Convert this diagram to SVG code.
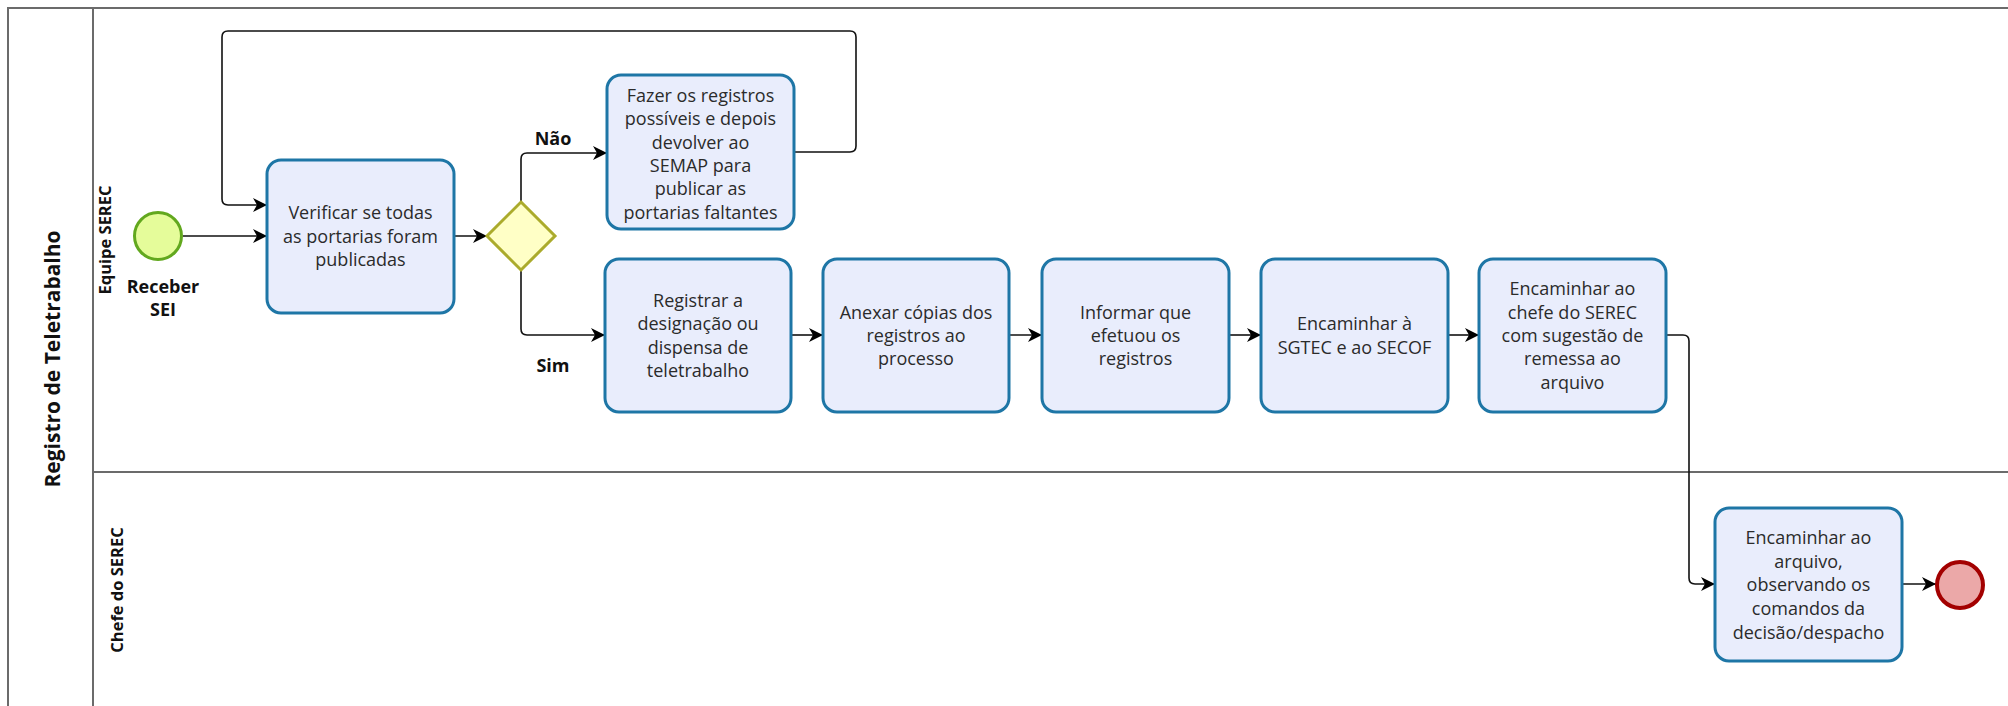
<svg xmlns="http://www.w3.org/2000/svg" width="2008" height="706" viewBox="0 0 2008 706">
<style>
.pool{fill:none;stroke:#6b6b6b;stroke-width:2}
.task{fill:#E9EDFC;stroke:#1E76A6;stroke-width:3}
.t{font-family:"Open Sans","Noto Sans",sans-serif;font-size:18px;fill:#2b2b2b;text-anchor:middle;dominant-baseline:central}
.b{font-family:"Open Sans","Noto Sans",sans-serif;font-weight:bold;font-size:18px;fill:#111;text-anchor:middle;dominant-baseline:central}
.lane{font-family:"Open Sans","Noto Sans",sans-serif;font-weight:bold;font-size:16.5px;fill:#111;text-anchor:middle;dominant-baseline:central}
.title{font-family:"Open Sans","Noto Sans",sans-serif;font-weight:bold;font-size:21px;fill:#111;text-anchor:middle;dominant-baseline:central}
.c{fill:none;stroke:#111;stroke-width:1.6;marker-end:url(#arr)}
</style>
<defs>
<marker id="arr" viewBox="0 0 14 14" refX="14" refY="7" markerWidth="14" markerHeight="14" markerUnits="userSpaceOnUse" orient="auto">
<path d="M0,0 L14,7 L0,14 L4,7 z" fill="#000"/>
</marker>
</defs>
<g id="pool">
<path class="pool" d="M8,706 V8 H2008"/>
<line class="pool" x1="93" y1="8" x2="93" y2="706"/>
<line class="pool" x1="93" y1="472" x2="2008" y2="472"/>
<text class="title" transform="translate(52,359) rotate(-90)">Registro de Teletrabalho</text>
<text class="lane" transform="translate(104,240) rotate(-90)">Equipe SEREC</text>
<text class="lane" transform="translate(116,590) rotate(-90)">Chefe do SEREC</text>
</g>
<g id="connectors">
<path class="c" d="M183,236 H267"/>
<path class="c" d="M454,236 H487"/>
<path class="c" d="M521,202 V159 Q521,153 527,153 H607"/>
<path class="c" d="M521,270 V329 Q521,335 527,335 H605"/>
<path class="c" d="M794,152 H850 Q856,152 856,146 V37 Q856,31 850,31 H228 Q222,31 222,37 V199 Q222,205 228,205 H267"/>
<path class="c" d="M791,335 H823"/>
<path class="c" d="M1009,335 H1042"/>
<path class="c" d="M1229,335 H1261"/>
<path class="c" d="M1448,335 H1479"/>
<path class="c" d="M1666,335 H1683 Q1689,335 1689,341 V578 Q1689,584 1695,584 H1715"/>
<path class="c" d="M1902,584 H1936"/>
<text class="b" x="553" y="138">Não</text>
<text class="b" x="553" y="365">Sim</text>
</g>
<g id="start">
<circle cx="158" cy="236" r="23.5" fill="#E5FC9A" stroke="#62A81E" stroke-width="3"/>
<text class="b" x="163" y="286">Receber</text>
<text class="b" x="163" y="309">SEI</text>
</g>
<g id="verificar">
<rect class="task" x="267" y="160" width="187" height="153" rx="14"/>
<text class="t" x="360.5" y="212">Verificar se todas</text>
<text class="t" x="360.5" y="236">as portarias foram</text>
<text class="t" x="360.5" y="259">publicadas</text>
</g>
<g id="gateway">
<path d="M521,202 L555,236 L521,270 L487,236 z" fill="#FFFFC6" stroke="#ABAB2C" stroke-width="3"/>
</g>
<g id="fazer">
<rect class="task" x="607" y="75" width="187" height="154" rx="14"/>
<text class="t" x="700.5" y="95">Fazer os registros</text>
<text class="t" x="700.5" y="118">possíveis e depois</text>
<text class="t" x="700.5" y="142">devolver ao</text>
<text class="t" x="700.5" y="165">SEMAP para</text>
<text class="t" x="700.5" y="188">publicar as</text>
<text class="t" x="700.5" y="212">portarias faltantes</text>
</g>
<g id="registrar">
<rect class="task" x="605" y="259" width="186" height="153" rx="14"/>
<text class="t" x="698" y="300">Registrar a</text>
<text class="t" x="698" y="323">designação ou</text>
<text class="t" x="698" y="347">dispensa de</text>
<text class="t" x="698" y="370">teletrabalho</text>
</g>
<g id="anexar">
<rect class="task" x="823" y="259" width="186" height="153" rx="14"/>
<text class="t" x="916" y="312">Anexar cópias dos</text>
<text class="t" x="916" y="335">registros ao</text>
<text class="t" x="916" y="358">processo</text>
</g>
<g id="informar">
<rect class="task" x="1042" y="259" width="187" height="153" rx="14"/>
<text class="t" x="1135.5" y="312">Informar que</text>
<text class="t" x="1135.5" y="335">efetuou os</text>
<text class="t" x="1135.5" y="358">registros</text>
</g>
<g id="encaminhar-sgtec">
<rect class="task" x="1261" y="259" width="187" height="153" rx="14"/>
<text class="t" x="1354.5" y="323">Encaminhar à</text>
<text class="t" x="1354.5" y="347">SGTEC e ao SECOF</text>
</g>
<g id="encaminhar-chefe">
<rect class="task" x="1479" y="259" width="187" height="153" rx="14"/>
<text class="t" x="1572.5" y="288">Encaminhar ao</text>
<text class="t" x="1572.5" y="312">chefe do SEREC</text>
<text class="t" x="1572.5" y="335">com sugestão de</text>
<text class="t" x="1572.5" y="358">remessa ao</text>
<text class="t" x="1572.5" y="382">arquivo</text>
</g>
<g id="encaminhar-arquivo">
<rect class="task" x="1715" y="508" width="187" height="153" rx="14"/>
<text class="t" x="1808.5" y="537">Encaminhar ao</text>
<text class="t" x="1808.5" y="561">arquivo,</text>
<text class="t" x="1808.5" y="584">observando os</text>
<text class="t" x="1808.5" y="608">comandos da</text>
<text class="t" x="1808.5" y="632">decisão/despacho</text>
</g>
<g id="end">
<circle cx="1960" cy="585" r="23" fill="#EBA8A8" stroke="#A30000" stroke-width="4"/>
</g>
</svg>
